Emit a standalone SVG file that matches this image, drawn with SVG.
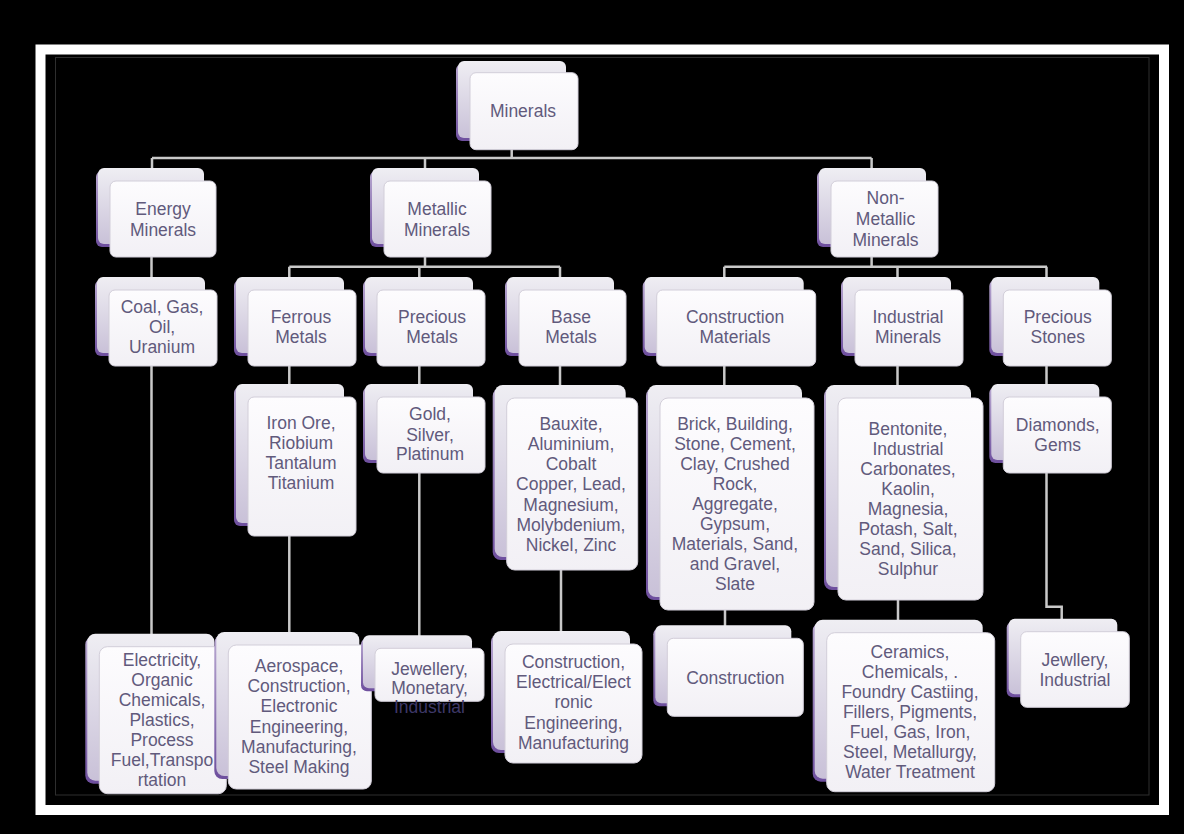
<svg xmlns="http://www.w3.org/2000/svg" width="1184" height="834" viewBox="0 0 1184 834">
<defs>
<linearGradient id="gBack" x1="0" y1="0" x2="0" y2="1">
<stop offset="0" stop-color="#efeef3"/>
<stop offset="1" stop-color="#c9c1d8"/>
</linearGradient>
<linearGradient id="gFront" x1="0" y1="0" x2="0" y2="1">
<stop offset="0" stop-color="#fdfcfe"/>
<stop offset="1" stop-color="#f2f0f5"/>
</linearGradient>
<linearGradient id="gSh" x1="0" y1="0" x2="0" y2="1">
<stop offset="0" stop-color="#b8a8d0"/>
<stop offset="1" stop-color="#6e4f9e"/>
</linearGradient>
<style>
.sh{fill:url(#gSh)}
.bk{fill:url(#gBack)}
.fr{fill:url(#gFront);stroke:#d2ced9;stroke-width:1}
.t{font-family:"Liberation Sans",Arial,sans-serif;font-size:17.5px;fill:#615a7c;text-anchor:middle}
.c{fill:none;stroke:#c9c9c9;stroke-width:2.5}
</style>
</defs>
<rect x="0" y="0" width="1184" height="834" fill="#000"/>
<rect x="40.5" y="49.5" width="1123.5" height="760.5" fill="none" stroke="#fff" stroke-width="10"/>
<rect x="55.5" y="57.5" width="1093.5" height="737.5" fill="none" stroke="#2e2e2e" stroke-width="1"/>

<g id="connectors">
<path class="c" d="M511.7 149 V158 M152 158 H871.6 M152 158 V169 M425 158 V169 M871.6 158 V169"/>
<path class="c" d="M151.5 257 V278 M151.5 366 V634"/>
<path class="c" d="M425 257 V266.7 M289.3 266.7 H560 M289.3 266.7 V278 M419.3 266.7 V278 M560 266.7 V278"/>
<path class="c" d="M289.3 366 V385 M289.3 536 V632"/>
<path class="c" d="M419.3 366 V385 M419.3 472 V636"/>
<path class="c" d="M560 366 V386 M561 570 V632"/>
<path class="c" d="M871.6 257 V266.7 M724.3 266.7 H1047 M724.3 266.7 V278 M897.5 266.7 V278 M1046.5 266.7 V278"/>
<path class="c" d="M724.3 366 V386 M725 610 V626"/>
<path class="c" d="M897.5 366 V386 M898 600 V620"/>
<path class="c" d="M1046.5 366 V385 M1046.5 472 V606.7 H1061.7 V620"/>
</g>

<g id="minerals">
<rect class="sh" x="456" y="64" width="108" height="77" rx="6"/>
<rect class="bk" x="458" y="61" width="108" height="77" rx="6"/>
<rect class="fr" x="470" y="72.7" width="108" height="77" rx="6"/>
<text class="t" x="523" y="117">Minerals</text>
</g>

<g id="energy-minerals">
<rect class="sh" x="96" y="171" width="106" height="76" rx="6"/>
<rect class="bk" x="98" y="168" width="106" height="76" rx="6"/>
<rect class="fr" x="110" y="181" width="106" height="76" rx="6"/>
<text class="t" x="163" y="215">Energy</text>
<text class="t" x="163" y="236">Minerals</text>
</g>

<g id="metallic-minerals">
<rect class="sh" x="370" y="171" width="107" height="76" rx="6"/>
<rect class="bk" x="372" y="168" width="107" height="76" rx="6"/>
<rect class="fr" x="384" y="181" width="107" height="76" rx="6"/>
<text class="t" x="437" y="215">Metallic</text>
<text class="t" x="437" y="236">Minerals</text>
</g>

<g id="non-metallic-minerals">
<rect class="sh" x="817" y="171" width="107" height="76" rx="6"/>
<rect class="bk" x="819" y="168" width="107" height="76" rx="6"/>
<rect class="fr" x="831" y="181" width="107" height="76" rx="6"/>
<text class="t" x="885.5" y="204">Non-</text>
<text class="t" x="885.5" y="225">Metallic</text>
<text class="t" x="885.5" y="246">Minerals</text>
</g>

<g id="coal">
<rect class="sh" x="95" y="280" width="108" height="76" rx="6"/>
<rect class="bk" x="97" y="277" width="108" height="76" rx="6"/>
<rect class="fr" x="109" y="290" width="108" height="76" rx="6"/>
<text class="t" x="162" y="313">Coal, Gas,</text>
<text class="t" x="162" y="333">Oil,</text>
<text class="t" x="162" y="353">Uranium</text>
</g>

<g id="ferrous-metals">
<rect class="sh" x="234" y="280" width="108" height="76" rx="6"/>
<rect class="bk" x="236" y="277" width="108" height="76" rx="6"/>
<rect class="fr" x="248" y="290" width="108" height="76" rx="6"/>
<text class="t" x="301" y="323">Ferrous</text>
<text class="t" x="301" y="343">Metals</text>
</g>

<g id="precious-metals">
<rect class="sh" x="363" y="280" width="108" height="76" rx="6"/>
<rect class="bk" x="365" y="277" width="108" height="76" rx="6"/>
<rect class="fr" x="377" y="290" width="108" height="76" rx="6"/>
<text class="t" x="432" y="323">Precious</text>
<text class="t" x="432" y="343">Metals</text>
</g>

<g id="base-metals">
<rect class="sh" x="505" y="280" width="107" height="76" rx="6"/>
<rect class="bk" x="507" y="277" width="107" height="76" rx="6"/>
<rect class="fr" x="519" y="290" width="107" height="76" rx="6"/>
<text class="t" x="571" y="323">Base</text>
<text class="t" x="571" y="343">Metals</text>
</g>

<g id="construction-materials">
<rect class="sh" x="642.7" y="280" width="159" height="76" rx="6"/>
<rect class="bk" x="644.7" y="277" width="159" height="76" rx="6"/>
<rect class="fr" x="656.7" y="290" width="159" height="76" rx="6"/>
<text class="t" x="735" y="323">Construction</text>
<text class="t" x="735" y="343">Materials</text>
</g>

<g id="industrial-minerals">
<rect class="sh" x="841" y="280" width="108" height="76" rx="6"/>
<rect class="bk" x="843" y="277" width="108" height="76" rx="6"/>
<rect class="fr" x="855" y="290" width="108" height="76" rx="6"/>
<text class="t" x="908" y="323">Industrial</text>
<text class="t" x="908" y="343">Minerals</text>
</g>

<g id="precious-stones">
<rect class="sh" x="989.3" y="280" width="108" height="76" rx="6"/>
<rect class="bk" x="991.3" y="277" width="108" height="76" rx="6"/>
<rect class="fr" x="1003.3" y="290" width="108" height="76" rx="6"/>
<text class="t" x="1057.7" y="323">Precious</text>
<text class="t" x="1057.7" y="343">Stones</text>
</g>

<g id="iron-ore">
<rect class="sh" x="234" y="387" width="108" height="139" rx="6"/>
<rect class="bk" x="236" y="384" width="108" height="139" rx="6"/>
<rect class="fr" x="248" y="397" width="108" height="139" rx="6"/>
<text class="t" x="301" y="429">Iron Ore,</text>
<text class="t" x="301" y="449">Riobium</text>
<text class="t" x="301" y="469">Tantalum</text>
<text class="t" x="301" y="489">Titanium</text>
</g>

<g id="gold">
<rect class="sh" x="363" y="387" width="108" height="76" rx="6"/>
<rect class="bk" x="365" y="384" width="108" height="76" rx="6"/>
<rect class="fr" x="377" y="397" width="108" height="76" rx="6"/>
<text class="t" x="430" y="420">Gold,</text>
<text class="t" x="430" y="441">Silver,</text>
<text class="t" x="430" y="460">Platinum</text>
</g>

<g id="bauxite">
<rect class="sh" x="492.7" y="388" width="131" height="172" rx="8"/>
<rect class="bk" x="494.7" y="385" width="131" height="172" rx="8"/>
<rect class="fr" x="506.7" y="398" width="131" height="172" rx="8"/>
<text class="t" x="571" y="429.5">Bauxite,</text>
<text class="t" x="571" y="449.8">Aluminium,</text>
<text class="t" x="571" y="470">Cobalt</text>
<text class="t" x="571" y="490.3">Copper, Lead,</text>
<text class="t" x="571" y="510.5">Magnesium,</text>
<text class="t" x="571" y="530.8">Molybdenium,</text>
<text class="t" x="571" y="551">Nickel, Zinc</text>
</g>

<g id="brick">
<rect class="sh" x="646" y="388" width="154" height="212" rx="8"/>
<rect class="bk" x="648" y="385" width="154" height="212" rx="8"/>
<rect class="fr" x="660" y="398" width="154" height="212" rx="8"/>
<text class="t" x="735" y="429.5">Brick, Building,</text>
<text class="t" x="735" y="449.5">Stone, Cement,</text>
<text class="t" x="735" y="469.5">Clay, Crushed</text>
<text class="t" x="735" y="489.5">Rock,</text>
<text class="t" x="735" y="509.5">Aggregate,</text>
<text class="t" x="735" y="529.5">Gypsum,</text>
<text class="t" x="735" y="549.5">Materials, Sand,</text>
<text class="t" x="735" y="569.5">and Gravel,</text>
<text class="t" x="735" y="589.5">Slate</text>
</g>

<g id="bentonite">
<rect class="sh" x="824" y="388" width="145" height="202" rx="8"/>
<rect class="bk" x="826" y="385" width="145" height="202" rx="8"/>
<rect class="fr" x="838" y="398" width="145" height="202" rx="8"/>
<text class="t" x="908" y="434.5">Bentonite,</text>
<text class="t" x="908" y="454.5">Industrial</text>
<text class="t" x="908" y="474.5">Carbonates,</text>
<text class="t" x="908" y="494.5">Kaolin,</text>
<text class="t" x="908" y="514.5">Magnesia,</text>
<text class="t" x="908" y="534.5">Potash, Salt,</text>
<text class="t" x="908" y="554.5">Sand, Silica,</text>
<text class="t" x="908" y="574.5">Sulphur</text>
</g>

<g id="diamonds">
<rect class="sh" x="989.3" y="387" width="108" height="76" rx="6"/>
<rect class="bk" x="991.3" y="384" width="108" height="76" rx="6"/>
<rect class="fr" x="1003.3" y="397" width="108" height="76" rx="6"/>
<text class="t" x="1057.7" y="431">Diamonds,</text>
<text class="t" x="1057.7" y="451">Gems</text>
</g>

<g id="electricity">
<rect class="sh" x="85.3" y="636.7" width="127" height="147" rx="8"/>
<rect class="bk" x="87.3" y="633.7" width="127" height="147" rx="8"/>
<rect class="fr" x="99.3" y="646.7" width="127" height="147" rx="8"/>
<text class="t" x="162" y="666">Electricity,</text>
<text class="t" x="162" y="686">Organic</text>
<text class="t" x="162" y="706">Chemicals,</text>
<text class="t" x="162" y="726">Plastics,</text>
<text class="t" x="162" y="746">Process</text>
<text class="t" x="162" y="766">Fuel,Transpo</text>
<text class="t" x="162" y="786">rtation</text>
</g>

<g id="aerospace">
<rect class="sh" x="214.3" y="635" width="143" height="144" rx="8"/>
<rect class="bk" x="216.3" y="632" width="143" height="144" rx="8"/>
<rect class="fr" x="228.3" y="645" width="143" height="144" rx="8"/>
<text class="t" x="299" y="672">Aerospace,</text>
<text class="t" x="299" y="692">Construction,</text>
<text class="t" x="299" y="712">Electronic</text>
<text class="t" x="299" y="732.5">Engineering,</text>
<text class="t" x="299" y="752.5">Manufacturing,</text>
<text class="t" x="299" y="772.5">Steel Making</text>
</g>

<g id="jewellery-monetary">
<rect class="sh" x="361" y="638.3" width="109" height="53" rx="6"/>
<rect class="bk" x="363" y="635.3" width="109" height="53" rx="6"/>
<rect class="fr" x="375" y="648.3" width="109" height="53" rx="6"/>
<text class="t" x="429.5" y="675">Jewellery,</text>
<text class="t" x="429.5" y="694">Monetary,</text>
<text class="t" x="429.5" y="713" style="fill:#3e3868">Industrial</text>
</g>

<g id="construction-electrical">
<rect class="sh" x="491" y="634" width="137" height="119" rx="8"/>
<rect class="bk" x="493" y="631" width="137" height="119" rx="8"/>
<rect class="fr" x="505" y="644" width="137" height="119" rx="8"/>
<text class="t" x="573.5" y="668">Construction,</text>
<text class="t" x="573.5" y="688">Electrical/Elect</text>
<text class="t" x="573.5" y="708">ronic</text>
<text class="t" x="573.5" y="728.5">Engineering,</text>
<text class="t" x="573.5" y="748.5">Manufacturing</text>
</g>

<g id="construction">
<rect class="sh" x="653.3" y="628.3" width="136" height="78" rx="6"/>
<rect class="bk" x="655.3" y="625.3" width="136" height="78" rx="6"/>
<rect class="fr" x="667.3" y="638.3" width="136" height="78" rx="6"/>
<text class="t" x="735.3" y="683.5">Construction</text>
</g>

<g id="ceramics">
<rect class="sh" x="812.7" y="622.7" width="168" height="159" rx="8"/>
<rect class="bk" x="814.7" y="619.7" width="168" height="159" rx="8"/>
<rect class="fr" x="826.7" y="632.7" width="168" height="159" rx="8"/>
<text class="t" x="910" y="658">Ceramics,</text>
<text class="t" x="910" y="678">Chemicals, .</text>
<text class="t" x="910" y="698">Foundry Castiing,</text>
<text class="t" x="910" y="718">Fillers, Pigments,</text>
<text class="t" x="910" y="738">Fuel, Gas, Iron,</text>
<text class="t" x="910" y="758">Steel, Metallurgy,</text>
<text class="t" x="910" y="778">Water Treatment</text>
</g>

<g id="jewllery-industrial">
<rect class="sh" x="1006.7" y="621.7" width="108.6" height="75.6" rx="6"/>
<rect class="bk" x="1008.7" y="618.7" width="108.6" height="75.6" rx="6"/>
<rect class="fr" x="1020.7" y="631.7" width="108.6" height="75.6" rx="6"/>
<text class="t" x="1075" y="666">Jewllery,</text>
<text class="t" x="1075" y="686">Industrial</text>
</g>
</svg>
